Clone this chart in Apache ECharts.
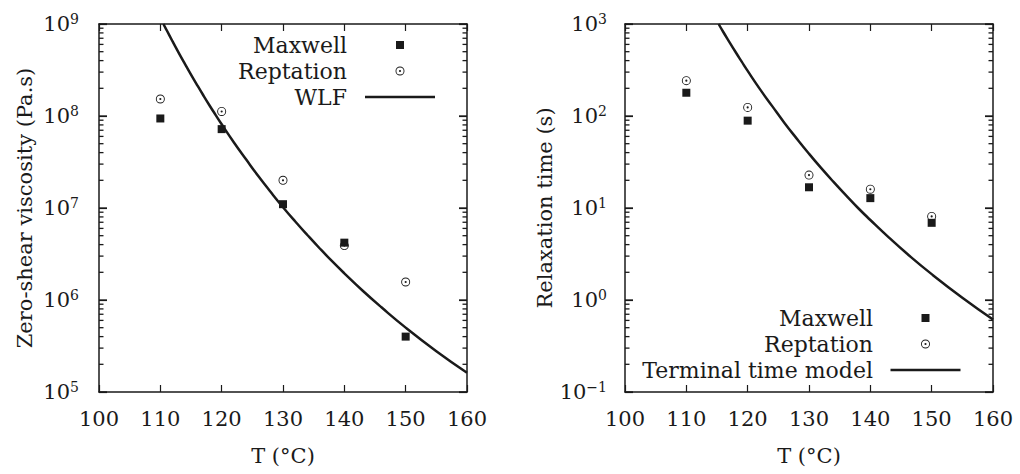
<!DOCTYPE html>
<html><head><meta charset="utf-8">
<script src="https://cdn.jsdelivr.net/npm/echarts@6/dist/echarts.min.js"></script>
<style>html,body{margin:0;padding:0;background:#fff}#c{width:1020px;height:474px}</style>
</head><body><div id="c"></div>
<script>
// ---- data ----
const T = [110, 120, 130, 140, 150];
const etaMaxwell = [9.4e7, 7.2e7, 1.1e7, 4.2e6, 4.0e5];
const etaReptation = [1.53e8, 1.12e8, 2.0e7, 3.9e6, 1.57e6];
const wlfT = [110.5, 111, 112, 113, 114, 115, 116, 117, 118, 119, 120, 122, 124, 126, 128, 130, 132, 134, 136, 138, 140, 143, 146, 150, 155, 160];
const wlfEta = [1.0e9, 8.65e8, 6.46e8, 4.86e8, 3.69e8, 2.82e8, 2.17e8, 1.68e8, 1.31e8, 1.03e8, 8.13e7, 5.16e7, 3.36e7, 2.21e7, 1.49e7, 1.02e7, 7.13e6, 5.06e6, 3.63e6, 2.64e6, 1.95e6, 1.26e6, 8.38e5, 5.01e5, 2.78e5, 1.62e5];
const tauMaxwell = [179, 89, 16.8, 12.8, 6.9];
const tauReptation = [242, 124, 22.8, 16, 8.1];
const termT = [115.26, 116, 117, 118, 119, 120, 122, 124, 126, 128, 130, 132, 134, 136, 138, 140, 143, 146, 150, 155, 160];
const termTau = [1000, 824, 640, 499, 392, 309, 196, 128, 84.1, 56.8, 38.9, 27.1, 19.2, 13.8, 10.0, 7.41, 4.80, 3.18, 1.91, 1.06, 0.615];
const xTicks = [100, 160, 10];          // min, max, interval
const leftDecades = [5, 9];             // 10^5 .. 10^9
const rightDecades = [-1, 3];           // 10^-1 .. 10^3

const FONT = 'DejaVu Serif';
const INK = '#1a1a1a';
const zip = (a, b) => a.map((v, i) => [v, b[i]]);
const minorVals = (d) => { const out = []; for (let e = d[0]; e < d[1]; e++) for (let m = 2; m <= 9; m++) out.push(+(m * Math.pow(10, e)).toPrecision(3)); return out; };
const majorVals = (d) => { const out = []; for (let e = d[0]; e <= d[1]; e++) out.push(+Math.pow(10, e).toPrecision(3)); return out; };
const ringDot = 'path://M10,0 A10,10 0 1,1 10,20 A10,10 0 1,1 10,0 Z M10,2 A8,8 0 1,0 10,18 A8,8 0 1,0 10,2 Z M10,7.6 A2.4,2.4 0 1,1 10,12.4 A2.4,2.4 0 1,1 10,7.6 Z';

function supFmt(v) {
  const e = Math.round(Math.log10(v));
  return '{b|10}{s|' + (e < 0 ? '\u2212' + (-e) : e) + '}';
}
const labelRich = {
  b: { fontFamily: FONT, fontSize: 21, lineHeight: 24, color: INK },
  s: { fontFamily: FONT, fontSize: 14, lineHeight: 14, verticalAlign: 'top', color: INK }
};

function xAxes(grid) {
  return [
    { gridIndex: grid, type: 'value', position: 'bottom', min: xTicks[0], max: xTicks[1], interval: xTicks[2],
      name: 'T (°C)', nameLocation: 'middle', nameGap: 53,
      nameTextStyle: { fontFamily: FONT, fontSize: 21, color: INK },
      axisLine: { lineStyle: { color: INK, width: 1.5 } },
      axisTick: { inside: true, length: 7, lineStyle: { color: INK, width: 1.2 } },
      axisLabel: { margin: 16, fontFamily: FONT, fontSize: 21, color: INK },
      splitLine: { show: false } },
    { gridIndex: grid, type: 'value', position: 'top', min: xTicks[0], max: xTicks[1], interval: xTicks[2],
      axisLine: { lineStyle: { color: INK, width: 1.5 } },
      axisTick: { inside: true, length: 7, lineStyle: { color: INK, width: 1.2 } },
      axisLabel: { show: false }, splitLine: { show: false } }
  ];
}
function yAxes(grid, dec, name, gap, margin) {
  const min = Math.pow(10, dec[0]), max = Math.pow(10, dec[1]);
  const base = { gridIndex: grid, type: 'log', logBase: 10, min, max, splitLine: { show: false } };
  return [
    Object.assign({}, base, { position: 'left', name, nameLocation: 'middle', nameGap: gap,
      nameTextStyle: { fontFamily: FONT, fontSize: 21, color: INK },
      axisLine: { lineStyle: { color: INK, width: 1.5 } },
      axisTick: { inside: true, length: 8, lineStyle: { color: INK, width: 1.2 } },
      axisLabel: { margin, formatter: supFmt, rich: labelRich } }),
    Object.assign({}, base, { position: 'right',
      axisLine: { lineStyle: { color: INK, width: 1.5 } },
      axisTick: { inside: true, length: 8, lineStyle: { color: INK, width: 1.2 } },
      axisLabel: { show: false } })
  ];
}
// log ticks on both sides (minor and major), placed through the axis scale
function logTicks(xi, yi, vals, len) {
  return { type: 'custom', xAxisIndex: xi, yAxisIndex: yi, silent: true, clip: false, z: 5,
    data: vals.map(v => [xTicks[0], v]),
    renderItem(params, api) {
      const v = api.value(1);
      const l = api.coord([xTicks[0], v]), r = api.coord([xTicks[1], v]);
      const st = { stroke: INK, lineWidth: 1.3, fill: null };
      return { type: 'group', children: [
        { type: 'line', shape: { x1: l[0], y1: l[1], x2: l[0] + len, y2: l[1] }, style: st },
        { type: 'line', shape: { x1: r[0] - len, y1: r[1], x2: r[0], y2: r[1] }, style: st }
      ] };
    } };
}
// one legend per entry: icon centred on a common column, text right-aligned before it
function legend(name, icon, iw, ih, iconCenterX, textEndX, centerY) {
  const right = 1020 - (iconCenterX + iw / 2);
  const pad = (iconCenterX - iw / 2) - 5 - textEndX;
  return { show: true, data: [{ name, icon }], orient: 'vertical', align: 'right', right, top: centerY - 11,
    padding: 0, itemWidth: iw, itemHeight: ih, selectedMode: false,
    itemStyle: { color: INK, opacity: 1 },
    textStyle: { fontFamily: FONT, fontSize: 22, lineHeight: 22, color: INK, padding: [0, pad, 0, 0] } };
}

const option = {
  animation: false,
  grid: [
    { left: 99, top: 24, width: 368, height: 368 },
    { left: 625, top: 24, width: 368, height: 368 }
  ],
  xAxis: [...xAxes(0), ...xAxes(1)],
  yAxis: [...yAxes(0, leftDecades, 'Zero-shear viscosity (Pa.s)', 64, 20),
          ...yAxes(1, rightDecades, 'Relaxation time (s)', 65, 18)],
  legend: [
    legend('Maxwell', 'rect', 8, 8, 400, 347, 45),
    legend('Reptation', ringDot, 9, 9, 400, 347, 71),
    legend('WLF', 'rect', 70, 2.5, 400, 347, 97),
    legend('Maxwell', 'rect', 8, 8, 925.5, 873, 318),
    legend('Reptation', ringDot, 9, 9, 925.5, 873, 344),
    legend('Terminal time model', 'rect', 70, 2.5, 925.5, 873, 370)
  ],
  series: [
    logTicks(0, 0, minorVals(leftDecades), 4.5),
    logTicks(0, 0, majorVals(leftDecades), 8),
    logTicks(2, 2, minorVals(rightDecades), 4.5),
    logTicks(2, 2, majorVals(rightDecades), 8),
    { name: 'WLF', type: 'line', xAxisIndex: 0, yAxisIndex: 0, data: zip(wlfT, wlfEta), smooth: true,
      showSymbol: false, symbol: 'none', lineStyle: { color: INK, width: 2.5 }, itemStyle: { color: INK }, clip: true, z: 2 },
    { name: 'Maxwell', type: 'scatter', xAxisIndex: 0, yAxisIndex: 0, data: zip(T, etaMaxwell),
      symbol: 'rect', symbolSize: 8, itemStyle: { color: INK, opacity: 1 }, z: 3 },
    { name: 'Reptation', type: 'scatter', xAxisIndex: 0, yAxisIndex: 0, data: zip(T, etaReptation),
      symbol: ringDot, symbolSize: 9, itemStyle: { color: INK, opacity: 1 }, z: 4 },
    { name: 'Terminal time model', type: 'line', xAxisIndex: 2, yAxisIndex: 2, data: zip(termT, termTau), smooth: true,
      showSymbol: false, symbol: 'none', lineStyle: { color: INK, width: 2.5 }, itemStyle: { color: INK }, clip: true, z: 2 },
    { name: 'Maxwell', type: 'scatter', xAxisIndex: 2, yAxisIndex: 2, data: zip(T, tauMaxwell),
      symbol: 'rect', symbolSize: 8, itemStyle: { color: INK, opacity: 1 }, z: 3 },
    { name: 'Reptation', type: 'scatter', xAxisIndex: 2, yAxisIndex: 2, data: zip(T, tauReptation),
      symbol: ringDot, symbolSize: 9, itemStyle: { color: INK, opacity: 1 }, z: 4 }
  ]
};
const chart = echarts.init(document.getElementById('c'), null, { renderer: 'svg' });
chart.setOption(option);
</script>
</body></html>
